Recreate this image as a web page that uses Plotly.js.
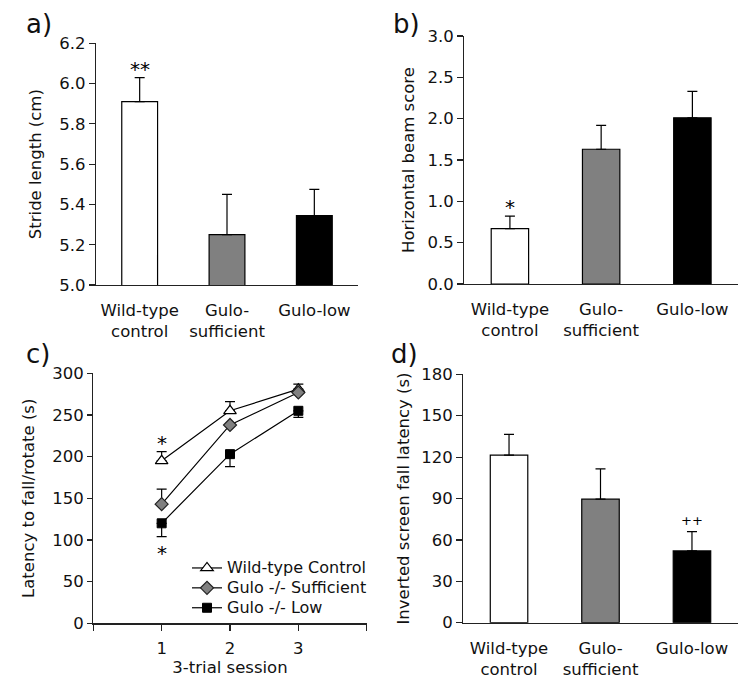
<!DOCTYPE html>
<html>
<head>
<meta charset="utf-8">
<script src="https://cdn.plot.ly/plotly-3.0.1.min.js"></script>
<style>html,body{margin:0;padding:0;background:#fff}#chart{width:750px;height:687px}</style>
</head>
<body>
<div id="chart"></div>
<script>
// ---- data ----
const groups = ['Wild-type<br>control', 'Gulo-<br>sufficient', 'Gulo-low'];
const barColors = ['#ffffff', '#808080', '#000000'];

const strideMean = [5.91, 5.25, 5.345];
const strideErr = [0.12, 0.20, 0.13];
const strideMarks = ['**', '', ''];

const beamMean = [0.67, 1.63, 2.01];
const beamErr = [0.15, 0.29, 0.32];
const beamMarks = ['*', '', ''];

const sessions = [1, 2, 3];
const sessionTicks = [0, 1, 2, 3, 4];
const sessionLabels = ['', '1', '2', '3', ''];
const wtLatency = [195, 255, 281];
const wtErr = [11, 11, 6];
const sufLatency = [143, 238, 277];
const sufErr = [18, 0, 0];
const lowLatency = [120, 203, 255];
const lowErr = [16, 15, 8];
const seriesNames = ['Wild-type Control', 'Gulo -/- Sufficient', 'Gulo -/- Low'];
const latencyMarks = ['*', '*'];

const screenMean = [121.5, 89.5, 52];
const screenErr = [15, 22, 14];
const screenMarks = ['', '', '++'];

const panelLabels = ['a)', 'b)', 'c)', 'd)'];

// ---- styles ----
const FONT = 'DejaVu Sans, Verdana, sans-serif';
const INK = '#111';
const FS = 16.5;
const zeros = n => new Array(n).fill(0);

function barTrace(y, err, xa, ya) {
  return {
    type: 'bar', x: groups, y: y, xaxis: xa, yaxis: ya,
    marker: {color: barColors, line: {color: '#000', width: 1.2}},
    error_y: {type: 'data', symmetric: false, array: err, arrayminus: zeros(err.length),
      color: '#000', thickness: 1.2, width: 5},
    showlegend: false, hoverinfo: 'skip'
  };
}

const legendName = s => '<span style="font-size:16px">' + s + '</span>';

const traces = [
  barTrace(strideMean, strideErr, 'x', 'y'),
  barTrace(beamMean, beamErr, 'x2', 'y2'),
  {
    type: 'scatter', mode: 'lines+markers', x: sessions, y: wtLatency, xaxis: 'x3', yaxis: 'y3',
    name: legendName(seriesNames[0]),
    line: {color: '#000', width: 1.2},
    marker: {symbol: 'triangle-up', size: 11, color: '#fff', line: {color: '#000', width: 1.2}},
    error_y: {type: 'data', symmetric: false, array: wtErr, arrayminus: zeros(3), color: '#000', thickness: 1.2, width: 5}
  },
  {
    type: 'scatter', mode: 'lines+markers', x: sessions, y: sufLatency, xaxis: 'x3', yaxis: 'y3',
    name: legendName(seriesNames[1]),
    line: {color: '#000', width: 1.2},
    marker: {symbol: 'diamond', size: 10, color: '#808080', line: {color: '#222', width: 1.2}},
    error_y: {type: 'data', symmetric: false, array: sufErr, arrayminus: zeros(3), color: '#000', thickness: 1.2, width: 5}
  },
  {
    type: 'scatter', mode: 'lines+markers', x: sessions, y: lowLatency, xaxis: 'x3', yaxis: 'y3',
    name: legendName(seriesNames[2]),
    line: {color: '#000', width: 1.2},
    marker: {symbol: 'square', size: 9, color: '#000', line: {color: '#000', width: 1}},
    error_y: {type: 'data', symmetric: false, array: zeros(3), arrayminus: lowErr, color: '#000', thickness: 1.2, width: 5}
  },
  barTrace(screenMean, screenErr, 'x4', 'y4')
];

const W = 750, H = 687;
const px = (a, b) => [a / W, b / W];
const py = (top, bottom) => [(H - bottom) / H, (H - top) / H];

const tickFont = {family: FONT, size: FS, color: INK};
function yAxis(range, dtick, fmt, title, dom, standoff) {
  return {
    domain: dom, range: range, dtick: dtick, tick0: range[0], tickformat: fmt,
    showline: true, linecolor: '#222', linewidth: 1.2, showgrid: false, zeroline: false,
    ticks: 'outside', ticklen: 6, tickwidth: 1.2, tickcolor: '#222',
    tickfont: tickFont, fixedrange: true,
    title: {text: title, font: {family: FONT, size: FS, color: INK}, standoff: standoff}
  };
}
function xCat(dom, anchor) {
  return {
    domain: dom, anchor: anchor, type: 'category', range: [-0.5, 2.5],
    showline: true, linecolor: '#222', linewidth: 1.2, showgrid: false, zeroline: false,
    ticks: '', ticklabelstandoff: 10, tickfont: tickFont, fixedrange: true
  };
}

const STAR = {family: FONT, size: 20, color: '#000'};
const annotations = [];
function addMarks(marks, means, errs, xa, ya, font, shift) {
  marks.forEach((m, i) => {
    if (!m) return;
    annotations.push({
      xref: xa, yref: ya, x: groups[i], y: means[i] + errs[i], text: m,
      showarrow: false, yanchor: 'bottom', yshift: shift, font: font
    });
  });
}
addMarks(strideMarks, strideMean, strideErr, 'x', 'y', STAR, -5);
addMarks(beamMarks, beamMean, beamErr, 'x2', 'y2', STAR, -5);
addMarks(screenMarks, screenMean, screenErr, 'x4', 'y4', {family: FONT, size: 13, color: '#000'}, 2);
annotations.push({xref: 'x3', yref: 'y3', x: sessions[0], y: wtLatency[0] + wtErr[0], text: latencyMarks[0],
  showarrow: false, yanchor: 'bottom', yshift: -5, font: STAR});
annotations.push({xref: 'x3', yref: 'y3', x: sessions[0], y: lowLatency[0] - lowErr[0], text: latencyMarks[1],
  showarrow: false, yanchor: 'top', yshift: -2, font: STAR});

const labelPos = [[24, 7], [391, 7], [24, 337], [389, 337]];
panelLabels.forEach((t, i) => {
  annotations.push({xref: 'paper', yref: 'paper', x: labelPos[i][0] / W, y: 1 - labelPos[i][1] / H,
    xanchor: 'left', yanchor: 'top', text: t, showarrow: false,
    font: {family: FONT, size: 26, color: INK}});
});

const layout = {
  width: W, height: H, margin: {l: 0, r: 0, t: 0, b: 0},
  paper_bgcolor: '#fff', plot_bgcolor: 'rgba(0,0,0,0)',
  font: {family: FONT, color: INK},
  bargap: 0.59,
  xaxis: xCat(px(96, 358), 'y'),
  yaxis: yAxis([5.0, 6.2], 0.2, '.1f', 'Stride length (cm)', py(43.3, 285), 13),
  xaxis2: xCat(px(464.3, 738), 'y2'),
  yaxis2: yAxis([0, 3], 0.5, '.1f', 'Horizontal beam score', py(36, 284), 8),
  xaxis3: {
    domain: px(93.3, 366.7), anchor: 'y3', range: [0, 4], tickvals: sessionTicks, ticktext: sessionLabels,
    showline: true, linecolor: '#222', linewidth: 1.2, showgrid: false, zeroline: false,
    ticks: 'outside', ticklen: 6, tickwidth: 1.2, tickcolor: '#222', tickfont: tickFont, fixedrange: true,
    ticklabelstandoff: 4,
    title: {text: '3-trial session', font: {family: FONT, size: FS, color: INK}, standoff: 0}
  },
  yaxis3: Object.assign(yAxis([0, 300], 50, '', 'Latency to fall/rotate (s)', py(373.3, 623.3), 13), {anchor: 'x3', ticklen: 5}),
  xaxis4: xCat(px(463.3, 737.7), 'y4'),
  yaxis4: Object.assign(yAxis([0, 180], 30, '', 'Inverted screen fall latency (s)', py(374.3, 622.7), 7), {anchor: 'x4'}),
  showlegend: true,
  legend: {x: 187 / W, y: 1 - 553 / H, xanchor: 'left', yanchor: 'top', bgcolor: 'rgba(0,0,0,0)',
    font: {family: FONT, size: 13, color: INK}, itemwidth: 30, tracegroupgap: 0},
  annotations: annotations
};
layout.yaxis.anchor = 'x';
layout.yaxis2.anchor = 'x2';

Plotly.newPlot('chart', traces, layout, {displayModeBar: false, staticPlot: true});
</script>
</body>
</html>
